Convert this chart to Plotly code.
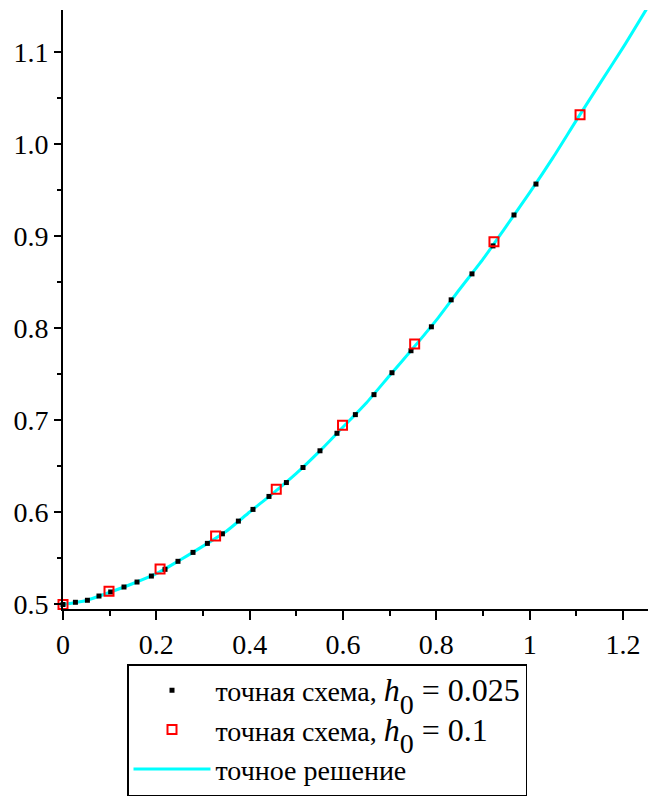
import plotly.graph_objects as go

# black markers: exact scheme, h0 = 0.025
x_fine = [0.0, 0.0266, 0.0523, 0.0771, 0.1022, 0.1307, 0.1586, 0.1894, 0.2186, 0.2464,
          0.2786, 0.3094, 0.3416, 0.3758, 0.4071, 0.4414, 0.4787, 0.5143, 0.5507, 0.5871,
          0.6265, 0.6664, 0.7050, 0.7457, 0.7894, 0.8318, 0.8764, 0.9214, 0.9664, 1.0135]
y_fine = [0.5000, 0.5024, 0.5046, 0.5092, 0.5136, 0.5190, 0.5244, 0.5309, 0.5382, 0.5469,
          0.5566, 0.5664, 0.5768, 0.5906, 0.6033, 0.6174, 0.6325, 0.6488, 0.6670, 0.6860,
          0.7063, 0.7280, 0.7518, 0.7757, 0.8017, 0.8310, 0.8592, 0.8896, 0.9232, 0.9568]

# red open squares: exact scheme, h0 = 0.1
x_coarse = [0.0, 0.0986, 0.2080, 0.3270, 0.4570, 0.5990, 0.7536, 0.9235, 1.1080]
y_coarse = [0.5000, 0.5143, 0.5385, 0.5743, 0.6253, 0.6947, 0.7829, 0.8940, 1.0320]

# cyan line: exact solution
x_exact = [0.0, 0.05, 0.1, 0.15, 0.2, 0.25, 0.3, 0.35, 0.4, 0.45, 0.5, 0.55, 0.6,
           0.65, 0.7, 0.75, 0.8, 0.85, 0.9, 0.95, 1.0, 1.05, 1.1, 1.15, 1.2, 1.25]
y_exact = [0.5000, 0.5044, 0.5132, 0.5228, 0.5335, 0.5480, 0.5634, 0.5796, 0.6005, 0.6208,
           0.6424, 0.6666, 0.6928, 0.7190, 0.7488, 0.7783, 0.8089, 0.8425, 0.8752, 0.9111,
           0.9474, 0.9855, 1.0260, 1.0656, 1.1050, 1.1466]

x_ticks = [0, 0.2, 0.4, 0.6, 0.8, 1.0, 1.2]
x_ticktext = ["0", "0.2", "0.4", "0.6", "0.8", "1", "1.2"]
y_ticks = [0.5, 0.6, 0.7, 0.8, 0.9, 1.0, 1.1]
y_ticktext = ["0.5", "0.6", "0.7", "0.8", "0.9", "1.0", "1.1"]

FONT = "Liberation Serif"


def scheme_label(h0):
    return ('точная схема, <span style="font-size:32px"><i>h</i></span>'
            '<sub><sub><sub><span style="font-size:28px">0</span></sub></sub></sub>'
            '<span style="font-size:32px"> = ' + h0 + '</span>')


fig = go.Figure()
fig.add_trace(go.Scatter(
    x=x_exact, y=y_exact, mode="lines",
    line=dict(color="#00FFFF", width=3, shape="spline", smoothing=0.6),
    name="точное решение", legendrank=3, cliponaxis=False))
fig.add_trace(go.Scatter(
    x=x_fine, y=y_fine, mode="markers",
    marker=dict(symbol="square", size=5, color="black"),
    name=scheme_label("0.025"), legendrank=1, cliponaxis=False))
fig.add_trace(go.Scatter(
    x=x_coarse, y=y_coarse, mode="markers",
    marker=dict(symbol="square-open", size=9, color="#FF0000", line=dict(width=2, color="#FF0000")),
    name=scheme_label("0.1"), legendrank=2, cliponaxis=False))

fig.update_layout(
    width=648, height=796,
    margin=dict(l=63, r=0, t=10, b=186),
    paper_bgcolor="white", plot_bgcolor="white",
    font=dict(family=FONT, size=28, color="black"),
    showlegend=True,
    legend=dict(
        x=(127 - 63) / 585, xanchor="left",
        y=(610 - 665) / 600, yanchor="top",
        bordercolor="black", borderwidth=1.5, bgcolor="white",
        font=dict(family=FONT, size=28, color="black"),
        itemwidth=77, tracegroupgap=0,
    ),
)
fig.update_xaxes(
    range=[0, 1.2536], showgrid=False, zeroline=False,
    showline=True, linecolor="black", linewidth=2,
    tickmode="array", tickvals=x_ticks, ticktext=x_ticktext,
    ticks="outside", ticklen=9, tickwidth=2, tickcolor="black",
    minor=dict(tickmode="linear", tick0=0, dtick=0.1, ticks="outside", ticklen=5,
               tickwidth=2, tickcolor="black"),
    tickfont=dict(family=FONT, size=28, color="black"),
)
fig.update_yaxes(
    range=[0.4951, 1.1459], showgrid=False, zeroline=False,
    showline=True, linecolor="black", linewidth=2,
    tickmode="array", tickvals=y_ticks, ticktext=y_ticktext,
    ticks="outside", ticklen=7, tickwidth=2, tickcolor="black",
    minor=dict(tickmode="linear", tick0=0.5, dtick=0.05, ticks="outside", ticklen=4,
               tickwidth=2, tickcolor="black"),
    tickfont=dict(family=FONT, size=28, color="black"),
)

fig.write_html("out.html")
